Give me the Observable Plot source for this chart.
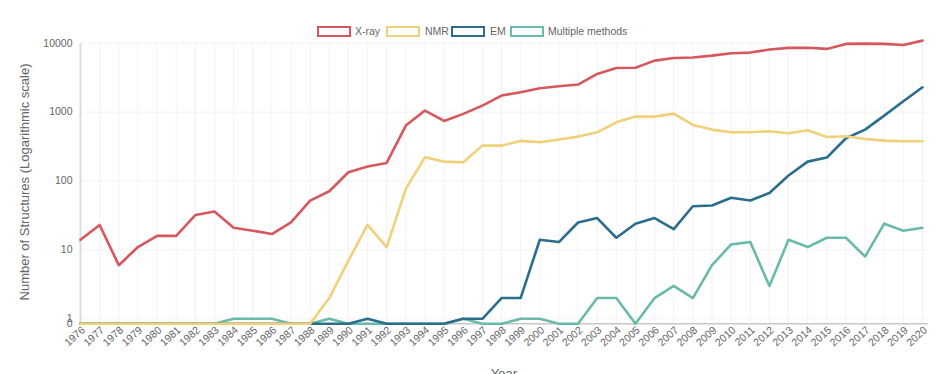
<!DOCTYPE html>
<html><head><meta charset="utf-8">
<script src="https://cdn.jsdelivr.net/npm/d3@7"></script>
<script src="https://cdn.jsdelivr.net/npm/@observablehq/plot@0.6"></script>
<style>
body{margin:0;background:#fff;overflow:hidden;font-family:"Liberation Sans",Arial,Helvetica,sans-serif;}
#wrap{position:relative;width:952px;height:374px;overflow:hidden;}
#wrap svg{position:absolute;left:0;top:0;}
.lgbox{position:absolute;top:26px;width:30px;height:7px;border:2px solid;background:#fff;}
.lgtxt{position:absolute;top:24px;font-size:10.5px;color:#666;line-height:14px;white-space:nowrap;}
#ytitle{position:absolute;left:24px;top:182px;transform:translate(-50%,-50%) rotate(-90deg);font-size:13px;color:#666;white-space:nowrap;}
#xtitle{position:absolute;left:504px;top:366px;transform:translateX(-50%);font-size:13px;color:#666;line-height:15px;}
</style></head><body><div id="wrap"></div>
<script>
const years = [1976,1977,1978,1979,1980,1981,1982,1983,1984,1985,1986,1987,1988,1989,1990,1991,1992,1993,1994,1995,1996,1997,1998,1999,2000,2001,2002,2003,2004,2005,2006,2007,2008,2009,2010,2011,2012,2013,2014,2015,2016,2017,2018,2019,2020];
const seriesNames = ["X-ray","NMR","EM","Multiple methods"];
const seriesColors = ["#d6585e","#f0d078","#2a6e8c","#69baaa"];
const xray = [14,23,6,11,16,16,32,36,21,19,17,25,52,71,134,162,183,637,1052,745,942,1242,1738,1940,2218,2371,2510,3581,4370,4400,5590,6110,6200,6600,7140,7310,8080,8550,8600,8260,9770,9870,9770,9440,10900];
const nmr = [0,0,0,0,0,0,0,0,0,0,0,0,0,2,7,23,11,77,221,191,187,326,326,382,365,400,441,509,711,860,860,951,652,557,509,509,527,493,544,436,446,408,386,377,377];
const em = [0,0,0,0,0,0,0,0,0,0,0,0,0,0,0,1,0,0,0,0,1,1,2,2,14,13,25,29,15,24,29,20,43,44,57,52,67,120,191,219,417,557,890,1435,2290];
const multiple = [0,0,0,0,0,0,0,0,1,1,1,0,0,1,0,0,0,0,0,0,1,0,0,1,1,0,0,2,2,0,2,3,2,6,12,13,3,14,11,15,15,8,24,19,21];
const yTickValues = [0,1,10,100,1000,10000];

const seriesValues = [xray, nmr, em, multiple];
// zero has no log position: it is drawn just below 1, as in the source chart
const ZERO_POS = 0.846;
const yPos = v => v === 0 ? ZERO_POS : v;

const rows = [];
for (let i = seriesNames.length - 1; i >= 0; i--) {
  seriesValues[i].forEach((v, j) => rows.push({year: years[j], series: seriesNames[i], value: v}));
}
const yTickRows = yTickValues.map(v => ({value: v, label: String(v)}));

const font = '"Liberation Sans", Arial, Helvetica, sans-serif';
const chart = Plot.plot({
  width: 952, height: 374,
  marginTop: 43, marginBottom: 51, marginLeft: 80, marginRight: 24,
  style: {fontFamily: font, fontSize: "10.5px", color: "#666", background: "transparent"},
  x: {type: "linear", domain: [1976, 2020], range: [80, 922]},
  y: {type: "log", domain: [ZERO_POS, 10000], range: [323.3, 42.7], axis: null},
  color: {domain: seriesNames, range: seriesColors},
  marks: [
    Plot.gridX(years, {stroke: "#000", strokeOpacity: 0.05}),
    Plot.gridY(yTickValues.filter(v => v > 0), {stroke: "#000", strokeOpacity: 0.05}),
    Plot.ruleX([years[0]], {stroke: "#dcdcdc", strokeWidth: 2}),
    Plot.ruleY([ZERO_POS], {stroke: "#c8c8c8", strokeWidth: 1.5}),
    Plot.lineY(rows, {x: "year", y: d => yPos(d.value), z: "series", stroke: "series", strokeWidth: 2.6}),
    Plot.axisX({ticks: years, tickFormat: d => String(d), tickRotate: -42, tickSize: 0, tickPadding: 5, dx: 3, label: null, fill: "#666", fontSize: 10.5}),
    Plot.text(yTickRows, {y: d => yPos(d.value), text: "label", frameAnchor: "left", textAnchor: "end", dx: -8, fill: "#666", fontSize: 10.5})
  ]
});
const wrap = document.getElementById("wrap");
wrap.appendChild(chart);

// legend
const boxX = [317, 386, 451, 510];
const textX = [355, 425, 490, 548];
seriesNames.forEach((s, i) => {
  const b = document.createElement("div");
  b.className = "lgbox"; b.style.left = boxX[i] + "px"; b.style.borderColor = seriesColors[i];
  wrap.appendChild(b);
  const t = document.createElement("div");
  t.className = "lgtxt"; t.style.left = textX[i] + "px"; t.textContent = s;
  wrap.appendChild(t);
});
const yt = document.createElement("div"); yt.id = "ytitle"; yt.textContent = "Number of Structures (Logarithmic scale)"; wrap.appendChild(yt);
const xt = document.createElement("div"); xt.id = "xtitle"; xt.textContent = "Year"; wrap.appendChild(xt);
</script></body></html>
